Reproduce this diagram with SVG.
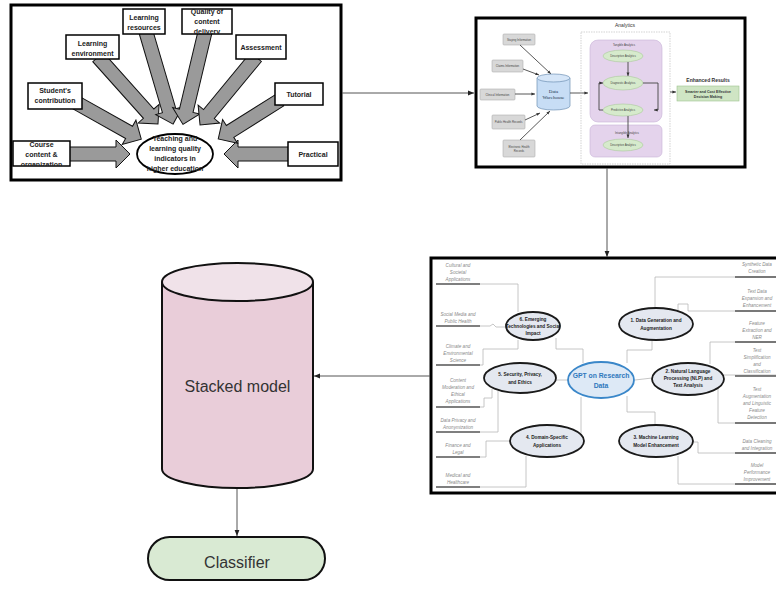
<svg xmlns="http://www.w3.org/2000/svg" width="776" height="591" viewBox="0 0 776 591">
<defs>
<style>
.frame{fill:#fff;stroke:#000;stroke-width:3}
.b1{fill:#fff;stroke:#000;stroke-width:1.5}
.t1{font-family:"Liberation Sans",Arial,sans-serif;font-size:7px;font-weight:bold;fill:#222;text-anchor:middle}
.barr{fill:#9a9a9a;stroke:#111;stroke-width:1}
.conn{fill:none;stroke:#555;stroke-width:1}
.mm{fill:none;stroke:#b8b8b8;stroke-width:0.8}
.leaf{font-family:"Liberation Sans",Arial,sans-serif;font-size:4.6px;font-style:italic;fill:#8a8a8a;text-anchor:middle}
.ul{stroke:#555;stroke-width:1.6}
.sub{fill:#e4e8f0;stroke:#1a1a1a;stroke-width:1.8}
.subt{font-family:"Liberation Sans",Arial,sans-serif;font-size:4.7px;font-weight:bold;fill:#222;text-anchor:middle}
.ib{fill:#d8d8d8;stroke:#b0b0b0;stroke-width:0.6}
.it{font-family:"Liberation Sans",Arial,sans-serif;font-size:2.8px;fill:#444;text-anchor:middle}
.ga{fill:none;stroke:#444;stroke-width:0.9}
.gel{fill:#d6eacc;stroke:#a9c99a;stroke-width:0.6}
.pur{fill:#e4d3ec;stroke:#c8b1d6;stroke-width:0.6}
.big{font-family:"Liberation Sans",Arial,sans-serif;font-size:16px;fill:#333;text-anchor:middle}
</style>
<marker id="ah" viewBox="0 0 10 10" refX="10" refY="5" markerWidth="6" markerHeight="6" orient="auto"><path d="M0,1 L10,5 L0,9 z" fill="#222"/></marker>
<marker id="sa" viewBox="0 0 10 10" refX="10" refY="5" markerWidth="4" markerHeight="4" orient="auto"><path d="M0,1 L10,5 L0,9 z" fill="#333"/></marker>
<clipPath id="cq"><rect x="182" y="9" width="50" height="25"/></clipPath>
<clipPath id="cc"><rect x="13" y="141" width="57" height="25"/></clipPath>
</defs>
<rect width="776" height="591" fill="#fff"/>

<!-- Panel 1: teaching and learning quality indicators -->
<g id="panel-quality">
<rect class="frame" x="11" y="5" width="330" height="175"/>
<polygon class="barr" points="0,-7 56,-7 56,-14 70,0 56,14 56,7 0,7" transform="translate(60,154)"/>
<polygon class="barr" points="0,-7 54,-7 54,-14 68,0 54,14 54,7 0,7" transform="translate(292,154) rotate(180)"/>
<polygon class="barr" points="0,-7 62,-7 62,-14 76,0 62,14 62,7 0,7" transform="translate(75,102) rotate(29.3)"/>
<polygon class="barr" points="0,-7 76,-7 76,-14 90,0 76,14 76,7 0,7" transform="translate(98,57) rotate(48.2)"/>
<polygon class="barr" points="0,-7 82,-7 82,-14 96,0 82,14 82,7 0,7" transform="translate(146,32) rotate(73.6)"/>
<polygon class="barr" points="0,-7 81,-7 81,-14 95,0 81,14 81,7 0,7" transform="translate(205,32) rotate(103.4)"/>
<polygon class="barr" points="0,-7 74,-7 74,-14 88,0 74,14 74,7 0,7" transform="translate(256,57) rotate(129.5)"/>
<polygon class="barr" points="0,-7 59,-7 59,-14 73,0 59,14 59,7 0,7" transform="translate(280,100) rotate(147.8)"/>
<rect class="b1" x="123" y="9" width="42" height="25"/>
<text class="t1" x="144" y="19.5">Learning</text><text class="t1" x="144" y="29.5">resources</text>
<rect class="b1" x="182" y="9" width="50" height="25"/>
<g clip-path="url(#cq)"><text class="t1" x="207" y="14">Quality of</text><text class="t1" x="207" y="24">content</text><text class="t1" x="207" y="34">delivery</text></g>
<rect class="b1" x="66" y="35" width="53" height="24"/>
<text class="t1" x="92.5" y="46">Learning</text><text class="t1" x="92.5" y="56">environment</text>
<rect class="b1" x="236" y="35" width="50" height="24"/>
<text class="t1" x="261" y="50">Assessment</text>
<rect class="b1" x="28" y="83" width="54" height="26"/>
<text class="t1" x="55" y="93">Student's</text><text class="t1" x="55" y="103">contribution</text>
<rect class="b1" x="275" y="83" width="48" height="22"/>
<text class="t1" x="299" y="97">Tutorial</text>
<rect class="b1" x="13" y="141" width="57" height="25"/>
<g clip-path="url(#cc)"><text class="t1" x="41.5" y="147">Course</text><text class="t1" x="41.5" y="157">content &amp;</text><text class="t1" x="41.5" y="167">organization</text></g>
<rect class="b1" x="288" y="142" width="50" height="24"/>
<text class="t1" x="313" y="157">Practical</text>
<ellipse cx="175" cy="154" rx="38" ry="20" fill="#fff" stroke="#000" stroke-width="1.8"/>
<text class="t1" x="175" y="141">Teaching and</text><text class="t1" x="175" y="151">learning quality</text><text class="t1" x="175" y="161">indicators in</text><text class="t1" x="175" y="171">higher education</text>
</g>

<!-- Panel 2: analytics -->
<g id="panel-analytics">
<rect class="frame" x="476" y="18" width="269" height="149"/>
<rect class="ib" x="503" y="34" width="32" height="11" rx="1"/><text class="it" x="519" y="40.5">Staying Information</text>
<rect class="ib" x="492" y="60" width="31" height="12" rx="1"/><text class="it" x="507.5" y="67">Claims Information</text>
<rect class="ib" x="480" y="89" width="35" height="11" rx="1"/><text class="it" x="497.5" y="95.5">Clinical Information</text>
<rect class="ib" x="492" y="115" width="33" height="14" rx="1"/><text class="it" x="508.5" y="123">Public Health Records</text>
<rect class="ib" x="503" y="140" width="32" height="17" rx="1"/><text class="it" x="519" y="147.5">Electronic Health</text><text class="it" x="519" y="151.5">Records</text>
<path class="ga" d="M520,45 L551,74" marker-end="url(#sa)"/>
<path class="ga" d="M523,69 L539,75" marker-end="url(#sa)"/>
<path class="ga" d="M515,94 L535,94" marker-end="url(#sa)"/>
<path class="ga" d="M525,120 L540,113" marker-end="url(#sa)"/>
<path class="ga" d="M520,140 L550,111" marker-end="url(#sa)"/>
<path d="M537,78 V106 A16.5,4 0 0 0 570,106 V78" fill="#c7ddf5" stroke="#6d8fb3" stroke-width="0.7"/>
<ellipse cx="553.5" cy="78" rx="16.5" ry="4" fill="#d6e6f8" stroke="#6d8fb3" stroke-width="0.7"/>
<text x="553.5" y="93" font-family="Liberation Serif,serif" font-size="5" fill="#1f3550" text-anchor="middle">Data</text>
<text x="553.5" y="99" font-family="Liberation Serif,serif" font-size="5" fill="#1f3550" text-anchor="middle">Warehouse</text>
<path class="ga" d="M570,93 L588,93" stroke-width="1.1" marker-end="url(#sa)"/>
<rect x="581" y="32" width="89" height="132" fill="none" stroke="#c0c0c0" stroke-width="0.7" stroke-dasharray="1.5,1"/>
<text x="625" y="27" font-family="Liberation Sans,Arial,sans-serif" font-size="5" fill="#333" text-anchor="middle">Analytics</text>
<rect class="pur" x="590" y="40" width="72" height="82" rx="8"/>
<text class="it" x="624" y="46">Tangible Analytics</text>
<ellipse class="gel" cx="623" cy="56" rx="20" ry="6"/><text class="it" x="623" y="57">Descriptive Analytics</text>
<path class="ga" d="M628,62 V76" stroke-width="0.6" marker-end="url(#sa)"/>
<ellipse class="gel" cx="623" cy="83" rx="20" ry="7"/><text class="it" x="623" y="84">Diagnostic Analytics</text>
<ellipse class="gel" cx="623" cy="110" rx="20" ry="6"/><text class="it" x="623" y="111">Predictive Analytics</text>
<path class="ga" d="M603,110 H599 V83 H603" stroke-width="0.6" marker-end="url(#sa)"/>
<path class="ga" d="M643,83 H658 V110 H654" stroke-width="0.6" marker-end="url(#sa)"/>
<rect class="pur" x="590" y="125" width="72" height="32" rx="5"/>
<text class="it" x="627" y="134">Intangible Analytics</text>
<ellipse class="gel" cx="623" cy="145" rx="20" ry="6"/><text class="it" x="623" y="146">Descriptive Analytics</text>
<path class="ga" d="M628,116 V138" stroke-width="0.6" marker-end="url(#sa)"/>
<path class="ga" d="M670,92 L676,92" stroke-width="1.1" marker-end="url(#sa)"/>
<text x="708" y="82" font-family="Liberation Sans,Arial,sans-serif" font-size="5" font-weight="bold" fill="#333" text-anchor="middle">Enhanced Results</text>
<rect x="677" y="86" width="62" height="15" fill="#cfe5c4" stroke="#9fc48f" stroke-width="0.6"/>
<text x="708" y="92.5" font-family="Liberation Sans,Arial,sans-serif" font-size="3.6" font-weight="bold" fill="#333" text-anchor="middle">Smarter and Cost Effective</text>
<text x="708" y="97.5" font-family="Liberation Sans,Arial,sans-serif" font-size="3.6" font-weight="bold" fill="#333" text-anchor="middle">Decision Making</text>
</g>

<!-- Panel 3: GPT on research data mind map -->
<g id="panel-gpt">
<rect class="frame" x="431" y="258" width="360" height="235"/>
<g id="mm-lines">
<path class="mm" d="M480,284 H518 V312"/>
<path class="mm" d="M480,326 H490 L493,324 L496,327 H506"/>
<path class="mm" d="M480,365 H483 V349 H518 V340"/>
<path class="mm" d="M556,338 V349 H583 V363"/>
<path class="mm" d="M480,407 H484 V398 H492 V389"/>
<path class="mm" d="M480,432 H498 V391"/>
<path class="mm" d="M556,380 H569"/>
<path class="mm" d="M581,397 V433"/>
<path class="mm" d="M480,457 H486 V441 H510"/>
<path class="mm" d="M480,487 H526 V456"/>
<path class="mm" d="M627,363 V350 H652 V340"/>
<path class="mm" d="M655,308 V277 H776"/>
<path class="mm" d="M678,313 V304 H688 V311 H776"/>
<path class="mm" d="M710,364 V342 H776"/>
<path class="mm" d="M724,375 H776"/>
<path class="mm" d="M718,386 V423 H776"/>
<path class="mm" d="M635,380 L652,378"/>
<path class="mm" d="M627,396 V412 H655 V425"/>
<path class="mm" d="M693,442 H698 V453 H776"/>
<path class="mm" d="M678,456 V484 H776"/>
</g>
<g id="leaf-underlines">
<line class="ul" x1="436" y1="284" x2="480" y2="284"/>
<line class="ul" x1="436" y1="326" x2="480" y2="326"/>
<line class="ul" x1="436" y1="365" x2="480" y2="365"/>
<line class="ul" x1="436" y1="407" x2="480" y2="407"/>
<line class="ul" x1="436" y1="432" x2="480" y2="432"/>
<line class="ul" x1="436" y1="457" x2="480" y2="457"/>
<line class="ul" x1="436" y1="487" x2="480" y2="487"/>
<line class="ul" x1="735" y1="277" x2="776" y2="277"/>
<line class="ul" x1="735" y1="311" x2="776" y2="311"/>
<line class="ul" x1="735" y1="342" x2="776" y2="342"/>
<line class="ul" x1="735" y1="376" x2="776" y2="376"/>
<line class="ul" x1="735" y1="423" x2="776" y2="423"/>
<line class="ul" x1="735" y1="453" x2="776" y2="453"/>
<line class="ul" x1="735" y1="484" x2="776" y2="484"/>
</g>
<g id="leaf-left">
<text class="leaf" x="458" y="267">Cultural and</text><text class="leaf" x="458" y="274">Societal</text><text class="leaf" x="458" y="281">Applications</text>
<text class="leaf" x="458" y="316">Social Media and</text><text class="leaf" x="458" y="323">Public Health</text>
<text class="leaf" x="458" y="348">Climate and</text><text class="leaf" x="458" y="355">Environmental</text><text class="leaf" x="458" y="362">Science</text>
<text class="leaf" x="458" y="382">Content</text><text class="leaf" x="458" y="389">Moderation and</text><text class="leaf" x="458" y="396">Ethical</text><text class="leaf" x="458" y="403">Applications</text>
<text class="leaf" x="458" y="422">Data Privacy and</text><text class="leaf" x="458" y="429">Anonymization</text>
<text class="leaf" x="458" y="447">Finance and</text><text class="leaf" x="458" y="454">Legal</text>
<text class="leaf" x="458" y="477">Medical and</text><text class="leaf" x="458" y="484">Healthcare</text>
</g>
<g id="leaf-right">
<text class="leaf" x="757" y="266">Synthetic Data</text><text class="leaf" x="757" y="273">Creation</text>
<text class="leaf" x="757" y="293">Text Data</text><text class="leaf" x="757" y="300">Expansion and</text><text class="leaf" x="757" y="307">Enhancement</text>
<text class="leaf" x="757" y="325">Feature</text><text class="leaf" x="757" y="332">Extraction and</text><text class="leaf" x="757" y="339">NER</text>
<text class="leaf" x="757" y="352">Text</text><text class="leaf" x="757" y="359">Simplification</text><text class="leaf" x="757" y="366">and</text><text class="leaf" x="757" y="373">Classification</text>
<text class="leaf" x="757" y="391">Text</text><text class="leaf" x="757" y="398">Augmentation</text><text class="leaf" x="757" y="405">and Linguistic</text><text class="leaf" x="757" y="412">Feature</text><text class="leaf" x="757" y="419">Detection</text>
<text class="leaf" x="757" y="443">Data Cleaning</text><text class="leaf" x="757" y="450">and Integration</text>
<text class="leaf" x="757" y="467">Model</text><text class="leaf" x="757" y="474">Performance</text><text class="leaf" x="757" y="481">Improvement</text>
</g>
<g id="mm-e6"><ellipse class="sub" cx="533" cy="326" rx="27" ry="14"/>
<text class="subt" x="533" y="321">6. Emerging</text><text class="subt" x="533" y="328">Technologies and Social</text><text class="subt" x="533" y="335">Impact</text></g>
<g id="mm-e1"><ellipse class="sub" cx="656" cy="324" rx="37" ry="16"/>
<text class="subt" x="656" y="322">1. Data Generation and</text><text class="subt" x="656" y="330">Augmentation</text></g>
<g id="mm-e2"><ellipse class="sub" cx="688" cy="379" rx="36" ry="16"/>
<text class="subt" x="688" y="373">2. Natural Language</text><text class="subt" x="688" y="380">Processing (NLP) and</text><text class="subt" x="688" y="387">Text Analysis</text></g>
<g id="mm-e5"><ellipse class="sub" cx="520" cy="378" rx="36" ry="15"/>
<text class="subt" x="520" y="376">5. Security, Privacy,</text><text class="subt" x="520" y="384">and Ethics</text></g>
<g id="mm-e4"><ellipse class="sub" cx="547" cy="441" rx="37" ry="16"/>
<text class="subt" x="547" y="439">4. Domain-Specific</text><text class="subt" x="547" y="447">Applications</text></g>
<g id="mm-e3"><ellipse class="sub" cx="656" cy="441" rx="37" ry="16"/>
<text class="subt" x="656" y="439">3. Machine Learning</text><text class="subt" x="656" y="447">Model Enhancement</text></g>
<g id="mm-center"><ellipse cx="601" cy="380" rx="33" ry="18" fill="#dde9f6" stroke="#3a87c9" stroke-width="1.8"/>
<text x="601" y="378" font-family="Liberation Sans,Arial,sans-serif" font-size="6.8" font-weight="bold" fill="#2f78bd" text-anchor="middle">GPT on Research</text>
<text x="601" y="388" font-family="Liberation Sans,Arial,sans-serif" font-size="6.8" font-weight="bold" fill="#2f78bd" text-anchor="middle">Data</text></g>
</g>

<!-- Stacked model -->
<g id="stacked-model">
<path d="M162,282 V469 A75.5,19 0 0 0 313,469 V282" fill="#e9cdd9" stroke="#111" stroke-width="2"/>
<ellipse cx="237.5" cy="282" rx="75.5" ry="19" fill="#f0e2e9" stroke="#111" stroke-width="2"/>
<text class="big" x="237.5" y="392">Stacked model</text>
</g>

<!-- Classifier -->
<g id="classifier">
<rect x="148" y="537" width="177" height="43" rx="21.5" fill="#d9ead3" stroke="#111" stroke-width="2"/>
<text class="big" x="237" y="568">Classifier</text>
</g>

<!-- Connectors -->
<g id="connectors">
<path class="conn" d="M342,93 H474" marker-end="url(#ah)"/>
<path class="conn" d="M607,168 V257" marker-end="url(#ah)"/>
<path class="conn" d="M430,376 H314" marker-end="url(#ah)"/>
<path class="conn" d="M237,489 V536" marker-end="url(#ah)"/>
</g>
</svg>
